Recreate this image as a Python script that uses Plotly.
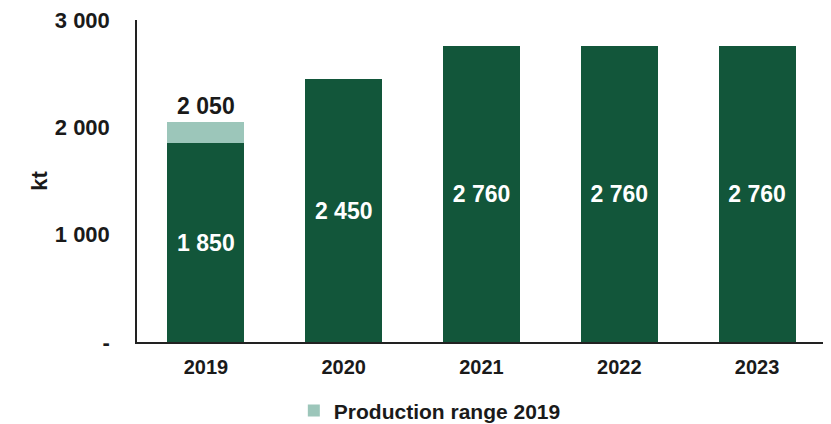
import plotly.graph_objects as go

years = ["2019", "2020", "2021", "2022", "2023"]
base_values = [1850, 2450, 2760, 2760, 2760]
base_labels = ["1 850", "2 450", "2 760", "2 760", "2 760"]
range_years = ["2019"]
range_values = [200]
range_labels = ["2 050"]
tick_vals = [0, 1000, 2000, 3000]
tick_text = ["-", "1 000", "2 000", "3 000"]

DARK = "#12563A"
LIGHT = "#9CC6BA"
FONT = "Liberation Sans, Arial, sans-serif"
TXT = "#1a1a1a"

fig = go.Figure()
fig.add_trace(go.Bar(
    x=years, y=base_values, marker=dict(color=DARK, line=dict(width=0)),
    text=base_labels, textposition="inside", insidetextanchor="middle",
    textfont=dict(family=FONT, size=23, color="white", weight="bold"),
    showlegend=False, name="Production",
))
fig.add_trace(go.Bar(
    x=range_years, y=range_values, marker=dict(color=LIGHT, line=dict(width=0)),
    text=range_labels, textposition="outside", cliponaxis=False,
    outsidetextfont=dict(family=FONT, size=23, color=TXT, weight="bold"),
    name="Production range 2019", showlegend=True, hoverinfo="skip",
))

fig.update_layout(
    barmode="stack", bargap=0.44,
    width=823, height=416,
    margin=dict(l=129, r=5, t=12, b=82, autoexpand=False),
    paper_bgcolor="white", plot_bgcolor="white",
    font=dict(family=FONT, color=TXT),
    legend=dict(
        orientation="h", x=0.425, xanchor="center", y=-0.214, yanchor="middle",
        font=dict(family=FONT, size=21, color=TXT, weight="bold"),
        bgcolor="rgba(0,0,0,0)",
    ),
)
fig.update_xaxes(
    type="category", categoryorder="array", categoryarray=years,
    automargin=False,
    showline=True, linecolor="#222222", linewidth=1.5, showgrid=False,
    ticks="", ticklabelstandoff=6,
    tickfont=dict(family=FONT, size=20, color=TXT, weight="bold"),
)
fig.update_yaxes(
    range=[0, 3000], tickvals=tick_vals, ticktext=tick_text,
    automargin=False, ticklabeloverflow="allow",
    showline=True, linecolor="#222222", linewidth=1.5, showgrid=False,
    zeroline=False, ticks="", ticklabelstandoff=21,
    tickfont=dict(family=FONT, size=22, color=TXT, weight="bold"),
    title=dict(text="kt", standoff=1,
               font=dict(family=FONT, size=22, color=TXT, weight="bold")),
)

fig.write_html("out.html")
